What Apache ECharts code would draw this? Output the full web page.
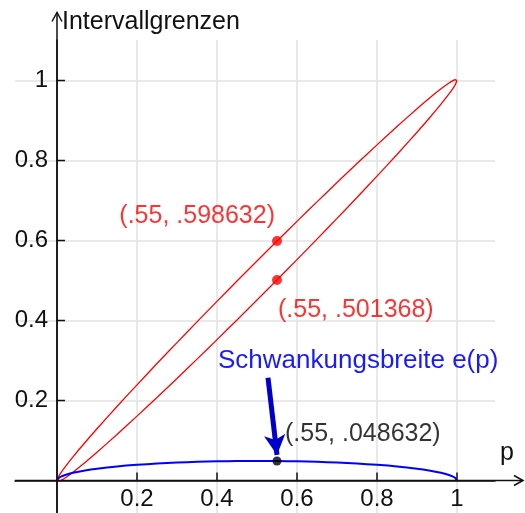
<!DOCTYPE html>
<html>
<head>
<meta charset="utf-8">
<script src="https://cdn.jsdelivr.net/npm/echarts@6/dist/echarts.min.js"></script>
<style>
  html, body { margin: 0; padding: 0; background: #fff; }
  #chart { width: 525px; height: 513px; }
</style>
</head>
<body>
<div id="chart"></div>
<script>
// p values and the interval bounds
const pValues = [0, 0.005, 0.01, 0.02, 0.04, 0.07, 0.1, 0.15, 0.2, 0.25, 0.3, 0.35, 0.4, 0.45, 0.5,
  0.55, 0.6, 0.65, 0.7, 0.75, 0.8, 0.85, 0.9, 0.93, 0.96, 0.98, 0.99, 0.995, 1]
const upperBound = [0, 0.011895, 0.01973, 0.03369, 0.05916, 0.09494, 0.12933, 0.18491, 0.2391, 0.29233,
  0.3448, 0.39663, 0.44789, 0.49863, 0.54888, 0.598632, 0.64789, 0.69663, 0.7448, 0.79233, 0.8391,
  0.88491, 0.92933, 0.95494, 0.97916, 0.99369, 0.99973, 1.001895, 1]
const lowerBound = [0, -0.001895, 0.00027, 0.00631, 0.02084, 0.04506, 0.07067, 0.11509, 0.1609, 0.20767,
  0.2552, 0.30337, 0.35211, 0.40137, 0.45112, 0.501368, 0.55211, 0.60337, 0.6552, 0.70767, 0.7609,
  0.81509, 0.87067, 0.90506, 0.94084, 0.96631, 0.98027, 0.988105, 1]
const spread = [0, 0.006895, 0.00973, 0.01369, 0.01916, 0.02494, 0.02933, 0.03491, 0.0391, 0.04233,
  0.0448, 0.04663, 0.04789, 0.04863, 0.04888, 0.048632, 0.04789, 0.04663, 0.0448, 0.04233, 0.0391,
  0.03491, 0.02933, 0.02494, 0.01916, 0.01369, 0.00973, 0.006895, 0]

// highlighted point at p = .55
const markP = 0.55
const markUpper = 0.598632
const markLower = 0.501368
const markSpread = 0.048632

// arrow pointing at the spread curve
const arrowFrom = [0.5275, 0.257]
const arrowTo = [0.55, 0.064]

const tickValues = [0.2, 0.4, 0.6, 0.8, 1]
const xAxisReach = [-0.105, 1.165]
const yAxisReach = [-0.081, 1.17]

const FONT = '"Liberation Sans", Arial, sans-serif'

const chart = echarts.init(document.getElementById('chart'))

const zip = (ys) => pValues.map((p, i) => [p, ys[i]])

const axisCommon = {
  type: 'value',
  axisLine: { show: true, onZero: true, lineStyle: { color: '#111', width: 1.5 } },
  axisTick: { show: false, customValues: tickValues },
  axisLabel: {
    customValues: tickValues,
    formatter: (v) => String(v),
    color: '#111',
    fontSize: 24,
    fontFamily: FONT
  },
  splitLine: { show: true, lineStyle: { color: '#e2e2e2', width: 1.5 } }
}

const option = {
  backgroundColor: '#fff',
  animation: false,
  grid: { left: 15, right: 30, top: 40, bottom: 0, containLabel: false, outerBoundsMode: 'none' },
  xAxis: Object.assign({}, axisCommon, {
    min: -0.105,
    max: 1.095,
    // labels are laid out from the grid edge, pull them up under the zero line
    axisLabel: Object.assign({}, axisCommon.axisLabel, { margin: -26 })
  }),
  yAxis: Object.assign({}, axisCommon, {
    min: -0.08125,
    max: 1.10125,
    axisLabel: Object.assign({}, axisCommon.axisLabel, { margin: -33 })
  }),
  series: [
    {
      name: 'upper',
      type: 'line',
      data: zip(upperBound),
      smooth: 0.3,
      showSymbol: false,
      lineStyle: { color: '#ff0000', width: 1.3 },
      z: 3
    },
    {
      name: 'lower',
      type: 'line',
      data: zip(lowerBound),
      smooth: 0.3,
      showSymbol: false,
      lineStyle: { color: '#ff0000', width: 1.3 },
      z: 3
    },
    {
      name: 'e(p)',
      type: 'line',
      data: zip(spread),
      smooth: 0.3,
      showSymbol: false,
      lineStyle: { color: '#0000ff', width: 2 },
      z: 3,
      markLine: {
        silent: true,
        symbol: ['none', 'arrow'],
        symbolSize: [16, 20],
        label: { show: false },
        lineStyle: { color: '#0000cc', width: 5, type: 'solid' },
        data: [[{ coord: arrowFrom }, { coord: arrowTo }]]
      }
    },
    {
      name: 'upperPoint',
      type: 'scatter',
      data: [[markP, markUpper]],
      symbolSize: 10,
      itemStyle: { color: '#ff0000' },
      label: {
        show: true,
        position: 'inside',
        align: 'right',
        verticalAlign: 'middle',
        offset: [-2, -25],
        formatter: '(.55, .598632)',
        color: '#ff0000',
        fontSize: 25,
        fontFamily: FONT
      },
      z: 5
    },
    {
      name: 'lowerPoint',
      type: 'scatter',
      data: [[markP, markLower]],
      symbolSize: 10,
      itemStyle: { color: '#ff0000' },
      label: {
        show: true,
        position: 'inside',
        align: 'left',
        verticalAlign: 'middle',
        offset: [1, 30],
        formatter: '(.55, .501368)',
        color: '#ff0000',
        fontSize: 25,
        fontFamily: FONT
      },
      z: 5
    },
    {
      name: 'spreadPoint',
      type: 'scatter',
      data: [[markP, markSpread]],
      symbolSize: 9,
      itemStyle: { color: '#000' },
      label: {
        show: true,
        position: 'inside',
        align: 'left',
        verticalAlign: 'middle',
        offset: [8, -27],
        formatter: '(.55, .048632)',
        color: '#000',
        fontSize: 25,
        fontFamily: FONT
      },
      z: 5
    }
  ]
}

chart.setOption(option)

// axes reach past the grid and end in open arrow heads; ticks point inward
const px = (x, y) => chart.convertToPixel({ gridIndex: 0 }, [x, y])
const xs = px(xAxisReach[0], 0)
const xe = px(xAxisReach[1], 0)
const ys = px(0, yAxisReach[0])
const ye = px(0, yAxisReach[1])
const axisStroke = { stroke: '#111', lineWidth: 1.5, fill: null }

const tickMarks = []
tickValues.forEach((v) => {
  const a = px(v, 0)
  tickMarks.push({ type: 'line', shape: { x1: a[0], y1: a[1], x2: a[0], y2: a[1] - 8 }, style: axisStroke, z: 10 })
  const b = px(0, v)
  tickMarks.push({ type: 'line', shape: { x1: b[0], y1: b[1], x2: b[0] + 8, y2: b[1] }, style: axisStroke, z: 10 })
})

chart.setOption({
  graphic: [
    { type: 'line', shape: { x1: xs[0], y1: xs[1], x2: xe[0], y2: xe[1] }, style: axisStroke, z: 10 },
    { type: 'polyline', shape: { points: [[xe[0] - 9, xe[1] - 5], [xe[0], xe[1]], [xe[0] - 9, xe[1] + 5]] }, style: axisStroke, z: 10 },
    { type: 'line', shape: { x1: ys[0], y1: ys[1], x2: ye[0], y2: ye[1] }, style: axisStroke, z: 10 },
    { type: 'polyline', shape: { points: [[ye[0] - 5, ye[1] + 9], [ye[0], ye[1]], [ye[0] + 5, ye[1] + 9]] }, style: axisStroke, z: 10 },
    ...tickMarks,
    { type: 'text', left: 62, top: 10, style: { text: 'Intervallgrenzen', fill: '#111', font: '25px ' + FONT }, z: 10 },
    { type: 'text', left: 500, top: 441, style: { text: 'p', fill: '#111', font: '25px ' + FONT }, z: 10 },
    { type: 'text', left: 218, top: 348, style: { text: 'Schwankungsbreite e(p)', fill: '#1a1aff', font: '26px ' + FONT }, z: 10 }
  ]
})
</script>
</body>
</html>
